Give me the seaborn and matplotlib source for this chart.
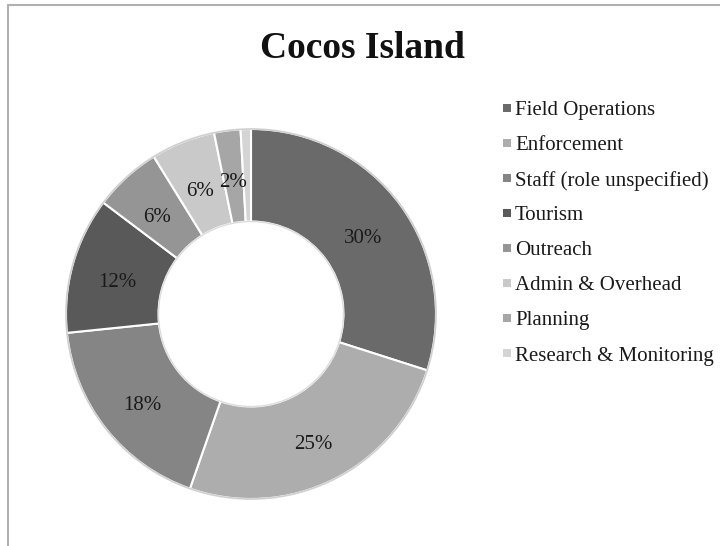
import matplotlib
matplotlib.use("Agg")
import matplotlib.pyplot as plt
import seaborn as sns
import numpy as np
from matplotlib.patches import Circle, Rectangle

# Share of staff effort by function
categories = [
    "Field Operations",
    "Enforcement",
    "Staff (role unspecified)",
    "Tourism",
    "Outreach",
    "Admin & Overhead",
    "Planning",
    "Research & Monitoring",
]
shares = [29.9, 25.4, 18.0, 11.9, 5.9, 5.6, 2.3, 0.9]
colors = ["#6a6a6a", "#adadad", "#858585", "#595959",
          "#959595", "#c9c9c9", "#a6a6a6", "#d4d4d4"]
title = "Cocos Island"

sns.set_theme(style="white")
plt.rcParams["font.family"] = ["Liberation Serif", "DejaVu Serif"]

W, H = 720, 546
fig = plt.figure(figsize=(W / 100, H / 100), dpi=100)

# thin frame along the top and left edges
fig.add_artist(plt.Line2D([8 / W, 1.0], [1 - 5 / H, 1 - 5 / H], transform=fig.transFigure,
                          color="#b0b0b0", lw=1.5))
fig.add_artist(plt.Line2D([8 / W, 8 / W], [0.0, 1 - 5 / H], transform=fig.transFigure,
                          color="#b0b0b0", lw=1.5))

fig.text(0.504, 1 - 48 / H, title, ha="center", va="center",
         fontsize=27, fontweight="bold", color="#111111")

# donut axes: centre ~ (251, 314) px, outer radius ~185 px
r_px = 185
cx, cy = 251, 314
ax = fig.add_axes([(cx - r_px) / W, 1 - (cy + r_px) / H,
                   2 * r_px / W, 2 * r_px / H])

wedges, _ = ax.pie(
    shares, colors=colors, startangle=90, counterclock=False, radius=1.0,
    wedgeprops=dict(width=0.5, edgecolor="white", linewidth=1.5),
)
ax.set_xlim(-1, 1)
ax.set_ylim(-1, 1)
ax.set_aspect("equal")
ax.axis("off")

# soft outline around the ring
ax.add_patch(Circle((0, 0), 1.0, fill=False, edgecolor="#cfcfcf", lw=1.2, clip_on=False))
ax.add_patch(Circle((0, 0), 0.5, fill=False, edgecolor="#dcdcdc", lw=1.0))

total = sum(shares)
for w, v in zip(wedges, shares):
    if v < 1.5:
        continue
    pct = round(v / total * 100)
    ang = np.deg2rad((w.theta1 + w.theta2) / 2)
    r = 0.75
    ax.annotate(f"{pct}%", (r * np.cos(ang), r * np.sin(ang)),
                xytext=(0, -6), textcoords="offset pixels",
                ha="center", va="center", fontsize=15, color="#1a1a1a")

# legend on the right
y0, dy = 111, 35
for i, (lab, col) in enumerate(zip(categories, colors)):
    y = y0 + i * dy
    fig.add_artist(Rectangle((503 / W, 1 - (y + 1) / H), 8 / W, 8 / H,
                             transform=fig.transFigure, facecolor=col,
                             edgecolor="none"))
    fig.text(515 / W, 1 - y / H, lab, ha="left", va="center",
             fontsize=15, color="#1a1a1a")

fig.savefig("out.png", dpi=100)
